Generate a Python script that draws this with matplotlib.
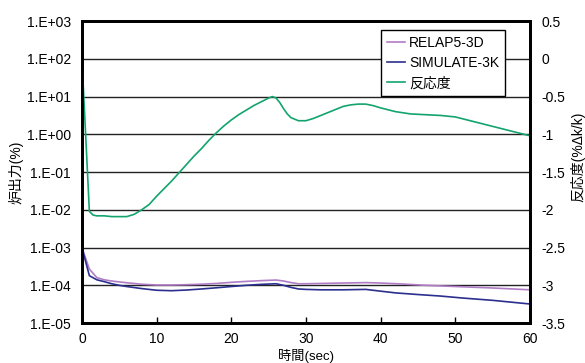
import matplotlib
matplotlib.use("Agg")
import matplotlib.pyplot as plt
from matplotlib.lines import Line2D

plt.rcParams['font.family'] = ['Liberation Sans', 'Noto Sans CJK JP', 'DejaVu Sans']

# Reactivity (%dk/k) vs time
react_t = [0, 0.5, 1.0, 1.5, 2, 3, 4, 5, 6, 7, 8, 9, 10, 11, 12, 13, 14, 15, 16,
           17, 18, 19, 20, 21, 22, 23, 24, 25, 25.5, 26, 26.5, 27, 27.5, 28, 29,
           30, 31, 32, 33, 34, 35, 36, 37, 38, 39, 40, 42, 44, 46, 48, 50, 52, 54,
           56, 58, 60]
react_v = [0.0, -1.0, -2.02, -2.07, -2.08, -2.08, -2.09, -2.09, -2.09, -2.06, -2.0,
           -1.93, -1.82, -1.72, -1.62, -1.51, -1.40, -1.29, -1.19, -1.08, -0.98,
           -0.89, -0.81, -0.74, -0.68, -0.62, -0.57, -0.52, -0.50, -0.52, -0.58,
           -0.66, -0.73, -0.78, -0.82, -0.82, -0.79, -0.75, -0.71, -0.67, -0.63,
           -0.61, -0.60, -0.60, -0.62, -0.65, -0.70, -0.73, -0.74, -0.75, -0.77,
           -0.82, -0.87, -0.92, -0.97, -1.02]

# Core power (%) - RELAP5-3D
relap_t = [0, 1, 2, 3, 4, 5, 6, 8, 10, 12, 14, 16, 18, 20, 22, 24, 26, 27, 28, 29,
           30, 32, 35, 38, 40, 43, 46, 50, 55, 60]
relap_p = [1.0e-3, 2.7e-4, 1.6e-4, 1.4e-4, 1.3e-4, 1.23e-4, 1.17e-4, 1.07e-4,
           1.02e-4, 1.02e-4, 1.04e-4, 1.07e-4, 1.12e-4, 1.2e-4, 1.27e-4, 1.33e-4,
           1.38e-4, 1.3e-4, 1.18e-4, 1.1e-4, 1.1e-4, 1.12e-4, 1.15e-4, 1.18e-4,
           1.15e-4, 1.08e-4, 1.0e-4, 9.3e-5, 8.5e-5, 7.6e-5]

# Core power (%) - SIMULATE-3K
sim_t = [0, 1, 2, 3, 4, 5, 6, 8, 10, 12, 14, 16, 18, 20, 22, 24, 26, 27, 28, 29,
         30, 32, 35, 38, 40, 42, 45, 48, 51, 55, 60]
sim_p = [1.0e-3, 1.8e-4, 1.4e-4, 1.25e-4, 1.1e-4, 1.0e-4, 9.3e-5, 8.2e-5, 7.4e-5,
         7.2e-5, 7.5e-5, 8.0e-5, 8.6e-5, 9.3e-5, 1.0e-4, 1.06e-4, 1.1e-4, 1.0e-4,
         8.8e-5, 8.0e-5, 7.8e-5, 7.6e-5, 7.6e-5, 7.8e-5, 7.0e-5, 6.3e-5, 5.7e-5,
         5.2e-5, 4.6e-5, 4.0e-5, 3.2e-5]

left_ticks = [1e-5, 1e-4, 1e-3, 1e-2, 1e-1, 1e0, 1e1, 1e2, 1e3]
left_labels = ['1.E-05', '1.E-04', '1.E-03', '1.E-02', '1.E-01', '1.E+00',
               '1.E+01', '1.E+02', '1.E+03']
right_ticks = [-3.5, -3, -2.5, -2, -1.5, -1, -0.5, 0, 0.5]
right_labels = ['-3.5', '-3', '-2.5', '-2', '-1.5', '-1', '-0.5', '0', '0.5']
x_ticks = [0, 10, 20, 30, 40, 50, 60]

c_relap = '#b07cc6'
c_sim = '#2b2f8f'
c_react = '#13a46e'

fig = plt.figure(figsize=(5.85, 3.63), dpi=100)
ax = fig.add_axes([0.140, 0.110, 0.766, 0.832])
ax2 = ax.twinx()

ax.set_yscale('log')
ax.set_ylim(1e-5, 1e3)
ax.set_xlim(0, 60)
ax.set_yticks(left_ticks)
ax.set_yticklabels(left_labels)
ax.minorticks_off()
ax.set_xticks(x_ticks)
ax.yaxis.grid(True, color='#222222', lw=1.0)
ax.set_axisbelow(True)

ax.plot(relap_t, relap_p, color=c_relap, lw=1.2)
ax.plot(sim_t, sim_p, color=c_sim, lw=1.2)

ax2.set_ylim(-3.5, 0.5)
ax2.set_yticks(right_ticks)
ax2.set_yticklabels(right_labels)
ax2.plot(react_t, react_v, color=c_react, lw=1.2)

ax.tick_params(axis='y', length=0, pad=8, labelsize=10)
ax2.tick_params(axis='y', length=0, pad=8, labelsize=10)
ax.tick_params(axis='x', direction='in', length=4, width=1, pad=6.5, labelsize=10)

for a in (ax, ax2):
    for s in a.spines.values():
        s.set_linewidth(2)
        s.set_color('black')

ax.set_xlabel('時間(sec)', fontsize=9.5, va='bottom')
ax.xaxis.set_label_coords(0.5, -0.131)
ax.set_ylabel('炉出力(%)', fontsize=10, labelpad=2)
ax2.set_ylabel('反応度(%Δk/k)', fontsize=10, rotation=90)
ax2.yaxis.set_label_coords(1.090, 0.55)

handles = [Line2D([], [], color=c_relap, lw=1.2),
           Line2D([], [], color=c_sim, lw=1.2),
           Line2D([], [], color=c_react, lw=1.2)]
leg = ax2.legend(handles, ['RELAP5-3D', 'SIMULATE-3K', '反応度'],
                 loc='upper right', bbox_to_anchor=(0.944, 0.970),
                 fontsize=10, frameon=True, fancybox=False, framealpha=1,
                 edgecolor='black', handlelength=1.3, handletextpad=0.3,
                 borderpad=0.4, labelspacing=0.45, borderaxespad=0)
leg.get_frame().set_linewidth(1.0)

fig.savefig('out.png', dpi=100)
